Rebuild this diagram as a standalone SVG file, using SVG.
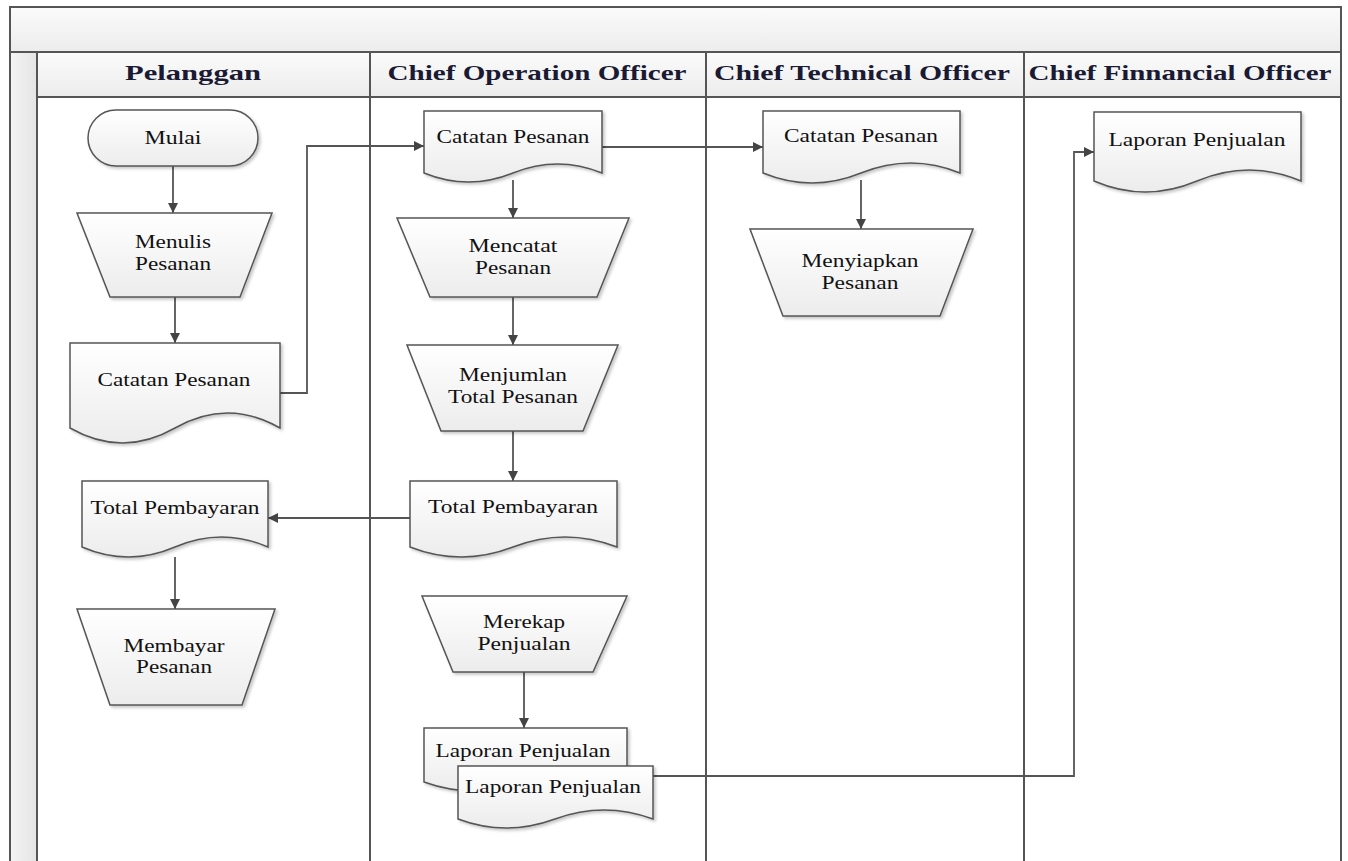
<svg xmlns="http://www.w3.org/2000/svg" width="1348" height="861" viewBox="0 0 1348 861">
<defs>
<linearGradient id="band" x1="0" y1="0" x2="0" y2="1"><stop offset="0" stop-color="#fbfbfb"/><stop offset="1" stop-color="#ececec"/></linearGradient>
<linearGradient id="strip" x1="0" y1="0" x2="1" y2="0"><stop offset="0" stop-color="#f4f4f4"/><stop offset="1" stop-color="#e4e4e4"/></linearGradient>
<linearGradient id="shape" x1="0" y1="0" x2="0" y2="1"><stop offset="0" stop-color="#ffffff"/><stop offset="1" stop-color="#ececec"/></linearGradient>
<filter id="sh" x="-10%" y="-10%" width="125%" height="130%"><feDropShadow dx="2" dy="2" stdDeviation="1.5" flood-color="#000" flood-opacity="0.22"/></filter>
<marker id="arr" viewBox="0 0 10 10" refX="10" refY="5" markerWidth="10" markerHeight="10" markerUnits="userSpaceOnUse" orient="auto"><path d="M0,0 L10,5 L0,10 Z" fill="#444"/></marker>
</defs>
<style>
.frame{fill:url(#band);stroke:#555;stroke-width:2}
.lane{stroke:#555;stroke-width:2;fill:none}
.hd{font-family:"Liberation Serif","Times New Roman",serif;font-size:22px;font-weight:bold;fill:#1a1a33;text-anchor:middle}
.sh{fill:url(#shape);stroke:#555;stroke-width:1.5;filter:url(#sh)}
.t{font-family:"Liberation Serif","Times New Roman",serif;font-size:18px;fill:#111;text-anchor:middle}
.c{fill:none;stroke:#555;stroke-width:1.8}
</style>
<rect width="1348" height="861" fill="#fff"/>
<g id="pool">
<rect class="frame" x="10" y="7" width="1331" height="45"/>
<rect x="10" y="52" width="27" height="815" fill="url(#strip)" stroke="#555" stroke-width="2"/>
<rect class="frame" x="37" y="52" width="1304" height="45"/>
<line class="lane" x1="1341" y1="52" x2="1341" y2="861"/>
<line class="lane" x1="370" y1="52" x2="370" y2="861"/>
<line class="lane" x1="706" y1="52" x2="706" y2="861"/>
<line class="lane" x1="1024" y1="52" x2="1024" y2="861"/>
<text class="hd" x="193" y="80" textLength="136" lengthAdjust="spacingAndGlyphs">Pelanggan</text>
<text class="hd" x="537" y="80" textLength="299" lengthAdjust="spacingAndGlyphs">Chief Operation Officer</text>
<text class="hd" x="862" y="80" textLength="296" lengthAdjust="spacingAndGlyphs">Chief Technical Officer</text>
<text class="hd" x="1180" y="80" textLength="303" lengthAdjust="spacingAndGlyphs">Chief Finnancial Officer</text>
</g>
<g id="connectors">
<line class="c" x1="173" y1="166" x2="173" y2="213" marker-end="url(#arr)"/>
<line class="c" x1="175" y1="297" x2="175" y2="343" marker-end="url(#arr)"/>
<path class="c" d="M280,393 H307 V146 H424" marker-end="url(#arr)"/>
<line class="c" x1="513" y1="180" x2="513" y2="218" marker-end="url(#arr)"/>
<line class="c" x1="513" y1="297" x2="513" y2="345" marker-end="url(#arr)"/>
<line class="c" x1="513" y1="431" x2="513" y2="481" marker-end="url(#arr)"/>
<line class="c" x1="410" y1="518" x2="268" y2="518" marker-end="url(#arr)"/>
<line class="c" x1="175" y1="557" x2="175" y2="609" marker-end="url(#arr)"/>
<line class="c" x1="602" y1="147" x2="763" y2="147" marker-end="url(#arr)"/>
<line class="c" x1="861" y1="180" x2="861" y2="229" marker-end="url(#arr)"/>
<line class="c" x1="524" y1="672" x2="524" y2="728" marker-end="url(#arr)"/>
<path class="c" d="M653,776 H1074 V152 H1094" marker-end="url(#arr)"/>
</g>
<g id="mulai">
<rect class="sh" x="88" y="110" width="170" height="56" rx="28"/>
<text class="t" x="173" y="144" textLength="57" lengthAdjust="spacingAndGlyphs">Mulai</text>
</g>
<g id="menulis">
<path class="sh" d="M77,213 H272 L240,297 H110 Z"/>
<text class="t" x="173" y="248" textLength="76" lengthAdjust="spacingAndGlyphs">Menulis</text>
<text class="t" x="173" y="270" textLength="76" lengthAdjust="spacingAndGlyphs">Pesanan</text>
</g>
<g id="p-catatan">
<path class="sh" d="M70,343 H280 V428 Q227.5,398 175,428 Q122.5,458 70,428 Z"/>
<text class="t" x="174" y="386" textLength="153" lengthAdjust="spacingAndGlyphs">Catatan Pesanan</text>
</g>
<g id="p-total">
<path class="sh" d="M82,481 H268 V547 Q221.5,527 175,547 Q128.5,567 82,547 Z"/>
<text class="t" x="175" y="514" textLength="169" lengthAdjust="spacingAndGlyphs">Total Pembayaran</text>
</g>
<g id="membayar">
<path class="sh" d="M77,609 H275 L242,705 H110 Z"/>
<text class="t" x="174" y="652" textLength="101" lengthAdjust="spacingAndGlyphs">Membayar</text>
<text class="t" x="174" y="673" textLength="76" lengthAdjust="spacingAndGlyphs">Pesanan</text>
</g>
<g id="coo-catatan">
<path class="sh" d="M424,111 H602 V173 Q557.5,155 513,173 Q468.5,191 424,173 Z"/>
<text class="t" x="513" y="143" textLength="153" lengthAdjust="spacingAndGlyphs">Catatan Pesanan</text>
</g>
<g id="mencatat">
<path class="sh" d="M397,218 H629 L597,297 H430 Z"/>
<text class="t" x="513" y="252" textLength="89" lengthAdjust="spacingAndGlyphs">Mencatat</text>
<text class="t" x="513" y="274" textLength="76" lengthAdjust="spacingAndGlyphs">Pesanan</text>
</g>
<g id="menjumlan">
<path class="sh" d="M407,345 H618 L583,431 H441 Z"/>
<text class="t" x="513" y="381" textLength="108" lengthAdjust="spacingAndGlyphs">Menjumlan</text>
<text class="t" x="513" y="403" textLength="130" lengthAdjust="spacingAndGlyphs">Total Pesanan</text>
</g>
<g id="coo-total">
<path class="sh" d="M410,481 H617 V547 Q565,527 513,547 Q461,567 410,547 Z"/>
<text class="t" x="513" y="513" textLength="170" lengthAdjust="spacingAndGlyphs">Total Pembayaran</text>
</g>
<g id="merekap">
<path class="sh" d="M422,596 H627 L593,672 H453 Z"/>
<text class="t" x="524" y="628" textLength="82" lengthAdjust="spacingAndGlyphs">Merekap</text>
<text class="t" x="524" y="650" textLength="93" lengthAdjust="spacingAndGlyphs">Penjualan</text>
</g>
<g id="coo-laporan">
<path class="sh" d="M424,728 H627 V782 Q576,764 525,782 Q474,800 424,782 Z"/>
<text class="t" x="523" y="757" textLength="175" lengthAdjust="spacingAndGlyphs">Laporan Penjualan</text>
<path class="sh" d="M458,766 H653 V819 Q604,801 555,819 Q506,837 458,819 Z"/>
<text class="t" x="553" y="793" textLength="176" lengthAdjust="spacingAndGlyphs">Laporan Penjualan</text>
</g>
<g id="cto-catatan">
<path class="sh" d="M763,111 H960 V173 Q911,153 861,173 Q812,193 763,173 Z"/>
<text class="t" x="861" y="142" textLength="154" lengthAdjust="spacingAndGlyphs">Catatan Pesanan</text>
</g>
<g id="menyiapkan">
<path class="sh" d="M750,229 H973 L940,316 H783 Z"/>
<text class="t" x="860" y="267" textLength="117" lengthAdjust="spacingAndGlyphs">Menyiapkan</text>
<text class="t" x="860" y="289" textLength="77" lengthAdjust="spacingAndGlyphs">Pesanan</text>
</g>
<g id="cfo-laporan">
<path class="sh" d="M1094,112 H1301 V181 Q1249,159 1197,181 Q1145,203 1094,181 Z"/>
<text class="t" x="1197" y="146" textLength="177" lengthAdjust="spacingAndGlyphs">Laporan Penjualan</text>
</g>
</svg>
